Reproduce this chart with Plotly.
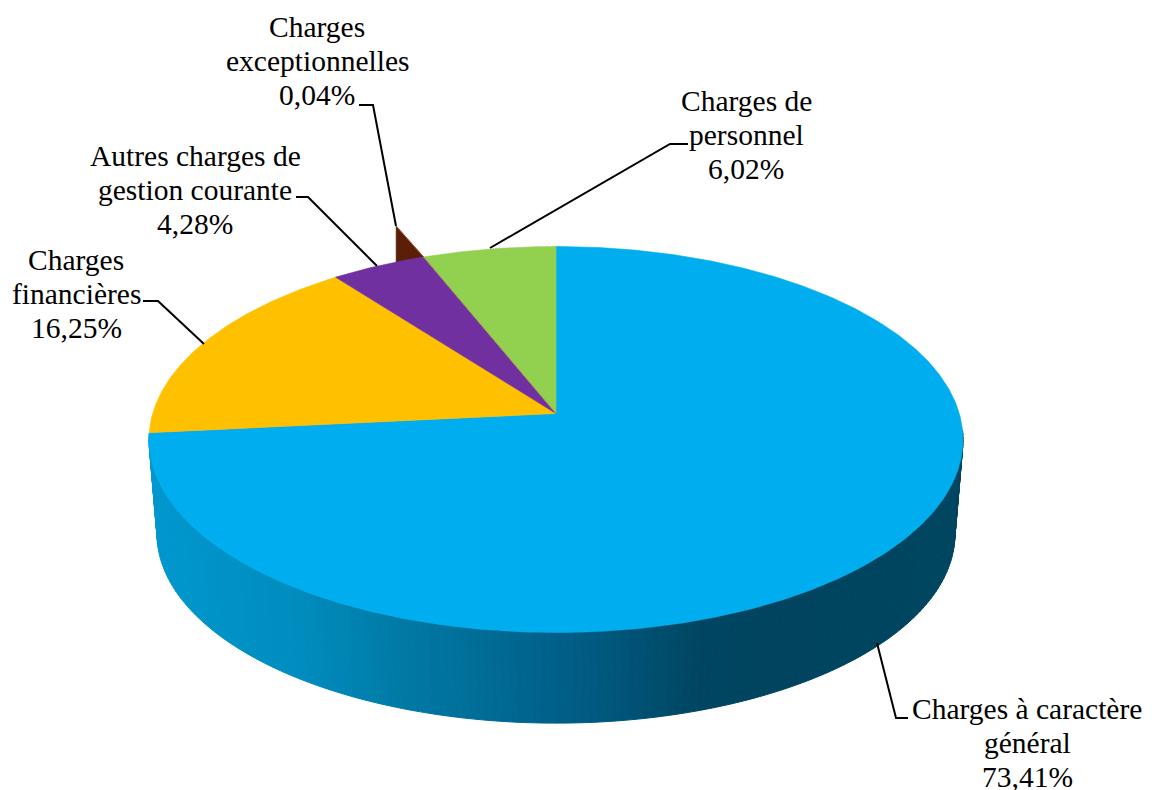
import numpy as np
import plotly.graph_objects as go

categories = ["Charges à caractère général", "Charges financières",
              "Autres charges de gestion courante", "Charges exceptionnelles",
              "Charges de personnel"]
values = [73.41, 16.25, 4.28, 0.04, 6.02]
slice_colors = ["#00AEEF", "#FFC000", "#7030A0", "#5B1F08", "#92D050"]
label_lines = [["Charges à caractère", "général", "73,41%"],
               ["Charges", "financières", "16,25%"],
               ["Autres charges de", "gestion courante", "4,28%"],
               ["Charges", "exceptionnelles", "0,04%"],
               ["Charges de", "personnel", "6,02%"]]
label_pos = [(1027, 743), (76, 294), (195, 190), (317, 61), (746, 135)]
LINE_GAP = 34.3
leaders = [[(877, 643), (896, 718), (908, 718)],
           [(143, 301), (158, 301), (204, 344)],
           [(296, 197), (308, 197), (377, 266)],
           [(359, 105), (373, 105), (396, 226)],
           [(688, 144), (670, 144), (490, 248)]]

# projection of the pie disc
CX, CY, R, S, K = 556.0, 413.5, 403.3, 189.5, 0.1347
SCALE_B, CY_B = 0.98, 508.5
WALL_STOPS = [(149, (0, 152, 207)), (300, (0, 140, 190)), (400, (0, 122, 165)),
              (556, (0, 96, 138)), (700, (0, 70, 98)), (760, (0, 68, 95)), (965, (0, 70, 97))]


def rim(theta, cy=CY, s=1.0):
    t = np.radians(theta)
    w = 1 + K * np.cos(t)
    return CX + s * R * np.sin(t) / w, cy - s * S * np.cos(t) / w


def wall_color(x):
    xs = [p[0] for p in WALL_STOPS]
    rgb = [np.interp(x, xs, [p[1][i] for p in WALL_STOPS]) for i in range(3)]
    return "rgb(%d,%d,%d)" % tuple(int(round(c)) for c in rgb)


fig = go.Figure()


def poly(x, y, color, line_w=0.6):
    fig.add_trace(go.Scatter(x=list(x), y=list(y), mode="lines", fill="toself",
                             fillcolor=color, line=dict(color=color, width=line_w),
                             hoverinfo="skip", showlegend=False))


edges = np.cumsum([0] + values) * 3.6

# outer wall
steps = np.arange(95, 264.5, 1.0)
for a, b in zip(steps[:-1], steps[1:]):
    ang = np.array([a, b])
    xt, yt = rim(ang)
    xb, yb = rim(ang[::-1], CY_B, SCALE_B)
    poly(np.r_[xt, xb, xt[0]], np.r_[yt, yb, yt[0]], wall_color((xt.mean() + xb.mean()) / 2), 1)

# the tiny slice stands up above the rim
th_end = edges[4]
th_start = th_end - 4.7
bx0, by0 = rim(th_start)
bx1, by1 = rim(th_end)
poly([bx0, bx1, bx0, bx0], [by0 + 2, by1, by0 - 36, by0 + 2], slice_colors[3])
fig.add_trace(go.Scatter(x=[bx1, bx0], y=[by1, by0 - 36], mode="lines",
                         line=dict(color="#B0603C", width=0.8), hoverinfo="skip", showlegend=False))

# top faces
for i, c in enumerate(slice_colors):
    if i == 3:
        continue
    start = edges[i]
    stop = edges[i + 1] if i != 2 else edges[4]
    ang = np.linspace(start, stop, max(int(stop - start) * 2, 8))
    x, y = rim(ang)
    poly(np.r_[CX, x, CX], np.r_[CY, y, CY], c)

x_e, y_e = rim(th_end)
fig.add_trace(go.Scatter(x=[CX, x_e], y=[CY, y_e], mode="lines",
                         line=dict(color="#B0805A", width=0.8), hoverinfo="skip", showlegend=False))

# leader lines
for pts in leaders:
    fig.add_trace(go.Scatter(x=[p[0] for p in pts], y=[p[1] for p in pts], mode="lines",
                             line=dict(color="black", width=2), hoverinfo="skip", showlegend=False))

for lines, (lx, ly) in zip(label_lines, label_pos):
    for k, txt in enumerate(lines):
        fig.add_annotation(x=lx, y=ly + (k - 1) * LINE_GAP, text=txt, showarrow=False,
                           xanchor="center", yanchor="middle",
                           font=dict(family="Liberation Serif", size=29.5, color="black"))

fig.update_layout(width=1152, height=790, margin=dict(l=0, r=0, t=0, b=0),
                  paper_bgcolor="white", plot_bgcolor="white", showlegend=False,
                  xaxis=dict(range=[0, 1152], visible=False, fixedrange=True),
                  yaxis=dict(range=[790, 0], visible=False, fixedrange=True))
fig.write_html("out.html", config={"displayModeBar": False},
               post_script="document.body.style.margin='0';document.body.style.overflow='hidden';")
